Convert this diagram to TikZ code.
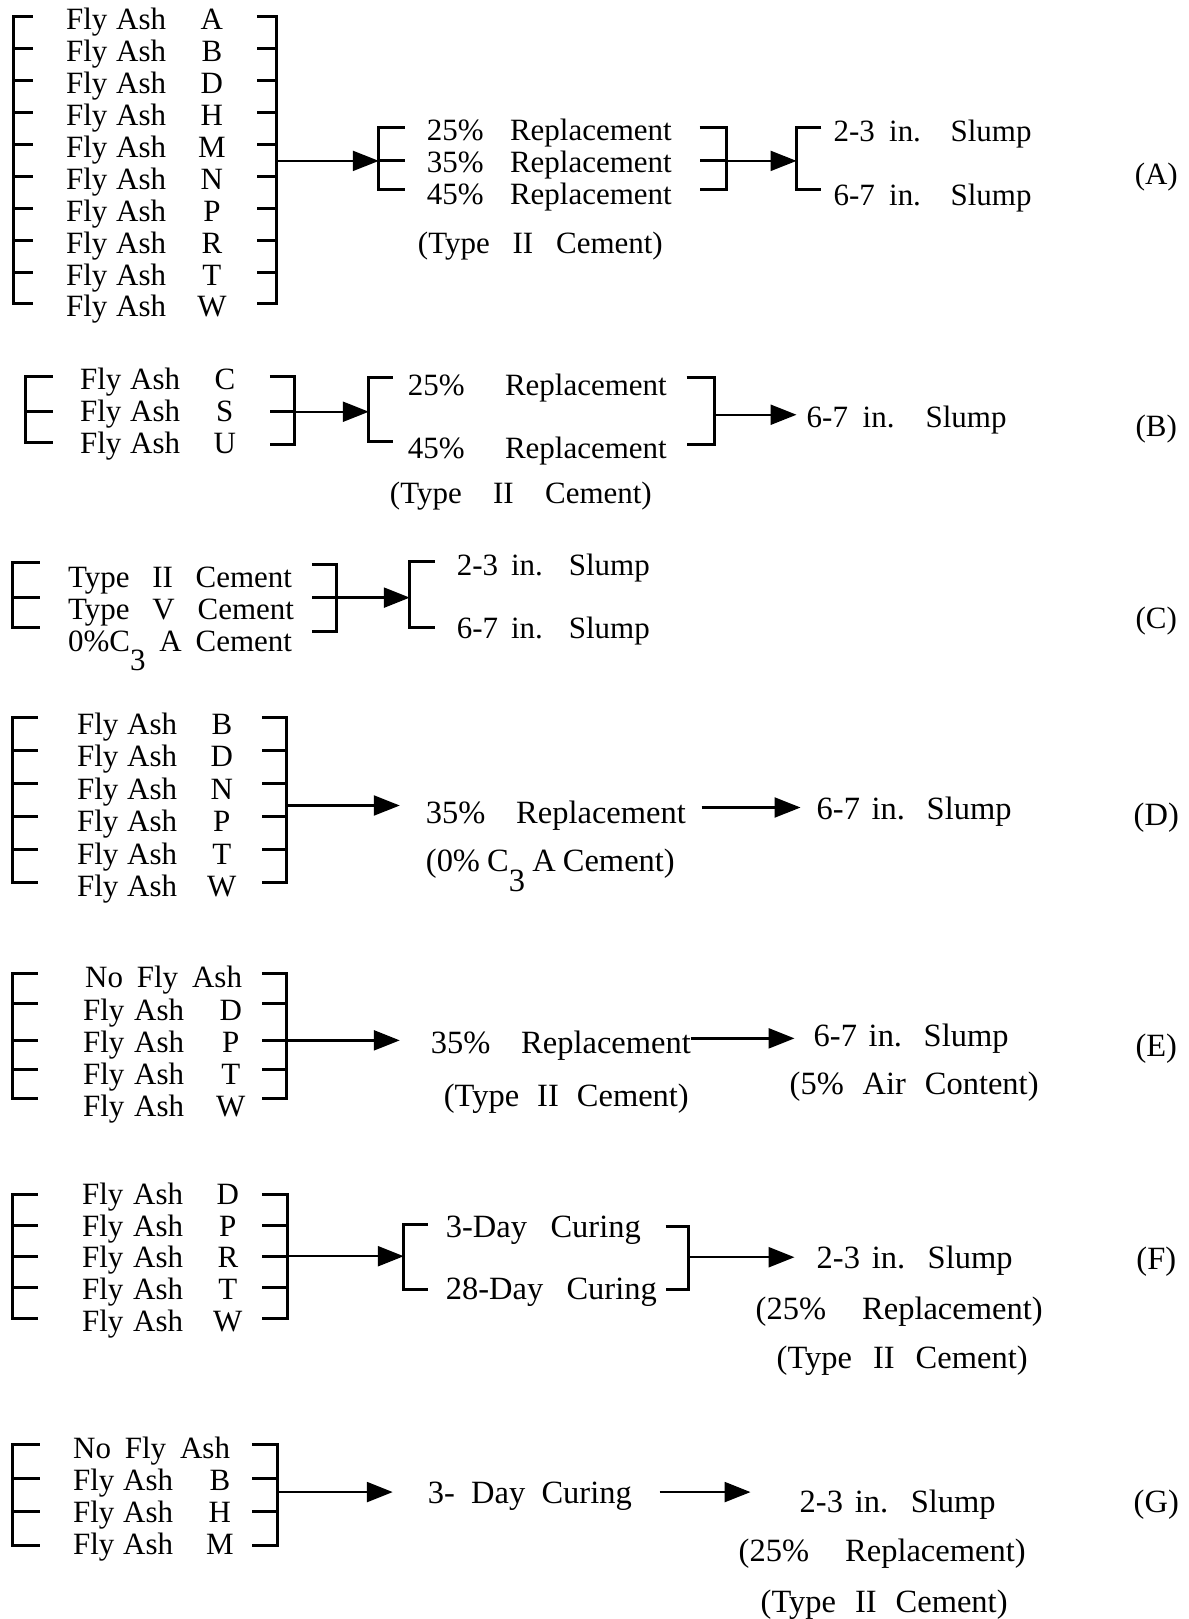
\documentclass[tikz,border=0pt]{standalone}
\usepackage{fontspec}
\setmainfont{Liberation Serif}
\usetikzlibrary{arrows.meta}

% text spread to a fixed width (interword glue stretched)
\newcommand\spreadtxt[2]{\makebox[#1pt][s]{#2}}
% lowered subscript digit of C3A
\newcommand\lowthree{\raisebox{-0.62em}{3}}
% bracket: spine x, tick end x, top y, bottom y, inner tick ys
\newcommand\bracketmulti[5]{%
  \draw[brk] (#2,#3) -- (#1,#3) -- (#1,#4) -- (#2,#4);
  \foreach \yy in {#5} {\draw[brk] (#1,\yy) -- (#2,\yy);}}
% bracket with two ticks only
\newcommand\bracketplain[4]{%
  \draw[brk] (#2,#3) -- (#1,#3) -- (#1,#4) -- (#2,#4);}

\begin{document}
\begin{tikzpicture}[x=1pt,y=-1pt,
  every node/.style={inner sep=0pt, font=\fontsize{31}{37}\selectfont},
  txt/.style={anchor=base west},
  big/.style={font=\fontsize{32.5}{38}\selectfont},
  lab/.style={anchor=base},
  brk/.style={line width=3pt, line join=miter},
  arr/.style={line width=2.4pt, -{Triangle[length=26pt,width=20pt]}}]
\fill[white] (0,0) rectangle (1189,1619);

% ---------------- (A) ----------------
\bracketmulti{14}{33}{17}{304}{48.9,80.8,112.7,144.6,176.5,208.4,240.3,272.2}
\bracketmulti{277}{257}{17}{304}{48.9,80.8,112.7,144.6,176.5,208.4,240.3,272.2}
\foreach \L [count=\i from 0] in {A,B,D,H,M,N,P,R,T,W} {
  \pgfmathsetmacro\yb{30+31.9*\i}
  \node[txt] (Aash\i) at (66,\yb) {\spreadtxt{100}{Fly Ash}};
  \node[lab] (Alet\i) at (212,\yb) {\L};
}
\coordinate (A1out) at (277,161);
\bracketmulti{379}{405}{128}{190}{161}
\coordinate (A2in) at (379,161);
\node[txt] (Arep1) at (427,141) {\spreadtxt{245}{25\% Replacement}};
\node[txt] (Arep2) at (427,173) {\spreadtxt{245}{35\% Replacement}};
\node[txt] (Arep3) at (427,205) {\spreadtxt{245}{45\% Replacement}};
\node[txt] (Acem) at (418,254) {\spreadtxt{245}{(Type II Cement)}};
\bracketmulti{727}{700}{128}{190}{161}
\coordinate (A2out) at (727,161);
\bracketplain{797}{822}{128}{190}
\coordinate (A3in) at (797,161);
\node[txt] (Aslump1) at (834,142) {\spreadtxt{198}{2-3 in. Slump}};
\node[txt] (Aslump2) at (834,206) {\spreadtxt{198}{6-7 in. Slump}};
\node[lab] (Atag) at (1157,185) {(A)};
\draw[arr] (A1out) -- (A2in);
\draw[arr] (A2out) -- (A3in);

% ---------------- (B) ----------------
\bracketmulti{26}{53}{377}{443}{412}
\foreach \L/\yb [count=\i] in {C/390,S/422,U/454} {
  \node[txt] (Bash\i) at (80,\yb) {\spreadtxt{100}{Fly Ash}};
  \node[lab] (Blet\i) at (225,\yb) {\L};
}
\bracketmulti{295}{270}{377}{445}{412}
\coordinate (B1out) at (295,412);
\bracketplain{369}{393}{378}{442}
\coordinate (B2in) at (369,412);
\node[txt] (Brep1) at (408,396) {\spreadtxt{259}{25\% Replacement}};
\node[txt] (Brep2) at (408,459) {\spreadtxt{259}{45\% Replacement}};
\node[txt] (Bcem) at (390,504) {\spreadtxt{262}{(Type II Cement)}};
\bracketplain{715}{687}{378}{445}
\coordinate (B2out) at (715,415);
\coordinate (B3in) at (797,415);
\node[txt] (Bslump) at (807,428) {\spreadtxt{200}{6-7 in. Slump}};
\node[lab] (Btag) at (1157,437) {(B)};
\draw[arr] (B1out) -- (B2in);
\draw[arr] (B2out) -- (B3in);

% ---------------- (C) ----------------
\bracketmulti{13}{40}{563}{628}{598}
\node[txt] (Ccem1) at (68,588) {\spreadtxt{224}{Type II Cement}};
\node[txt] (Ccem2) at (68,620) {\spreadtxt{226}{Type V Cement}};
\node[txt] (Ccem3) at (68,652) {\spreadtxt{224}{0\%C\lowthree{} A Cement}};
\bracketmulti{337}{312}{565}{632}{598}
\coordinate (C1out) at (337,598);
\bracketplain{410}{435}{562}{628}
\coordinate (C2in) at (410,598);
\node[txt] (Cslump1) at (457,576) {\spreadtxt{193}{2-3 in. Slump}};
\node[txt] (Cslump2) at (457,639) {\spreadtxt{193}{6-7 in. Slump}};
\node[lab] (Ctag) at (1157,629) {(C)};
\draw[arr] (C1out) -- (C2in);

% ---------------- (D) ----------------
\bracketmulti{13}{38}{718}{883}{751,784,817,850}
\bracketmulti{287}{262}{718}{883}{751,784,817,850}
\foreach \L/\yb [count=\i] in {B/735,D/767,N/800,P/832,T/865,W/897} {
  \node[txt] (Dash\i) at (77,\yb) {\spreadtxt{100}{Fly Ash}};
  \node[lab] (Dlet\i) at (222,\yb) {\L};
}
\coordinate (D1out) at (287,806);
\coordinate (D1end) at (400,806);
\node[txt,big] (Drep) at (426,824) {\spreadtxt{260}{35\% Replacement}};
\node[txt,big] (Dcem) at (426,872) {\spreadtxt{249}{(0\% C\lowthree{} A Cement)}};
\coordinate (D2out) at (702,808);
\coordinate (D2end) at (801,808);
\node[txt,big] (Dslump) at (817,820) {\spreadtxt{195}{6-7 in. Slump}};
\node[lab,big] (Dtag) at (1157,826) {(D)};
\draw[arr] (D1out) -- (D1end);
\draw[arr] (D2out) -- (D2end);

% ---------------- (E) ----------------
\bracketmulti{13}{38}{974}{1099}{1004,1041,1070}
\bracketmulti{287}{262}{974}{1099}{1004,1041,1070}
\node[txt] (Enone) at (85,988) {\spreadtxt{157}{No Fly Ash}};
\foreach \L/\yb [count=\i] in {D/1021,P/1053,T/1085,W/1117} {
  \node[txt] (Eash\i) at (83,\yb) {\spreadtxt{101}{Fly Ash}};
  \node[lab] (Elet\i) at (231,\yb) {\L};
}
\coordinate (E1out) at (287,1041);
\coordinate (E1end) at (400,1041);
\node[txt,big] (Erep) at (431,1054) {\spreadtxt{260}{35\% Replacement}};
\node[txt,big] (Ecem) at (444,1107) {\spreadtxt{245}{(Type II Cement)}};
\coordinate (E2out) at (691,1039);
\coordinate (E2end) at (795,1039);
\node[txt,big] (Eslump) at (814,1047) {\spreadtxt{195}{6-7 in. Slump}};
\node[txt,big] (Eair) at (790,1095) {\spreadtxt{249}{(5\% Air Content)}};
\node[lab,big] (Etag) at (1157,1057) {(E)};
\draw[arr] (E1out) -- (E1end);
\draw[arr] (E2out) -- (E2end);

% ---------------- (F) ----------------
\bracketmulti{13}{38}{1195}{1319}{1226,1257,1288}
\bracketmulti{288}{262}{1195}{1319}{1226,1257,1288}
\foreach \L/\yb [count=\i] in {D/1205,P/1237,R/1268,T/1300,W/1332} {
  \node[txt] (Fash\i) at (82,\yb) {\spreadtxt{101}{Fly Ash}};
  \node[lab] (Flet\i) at (228,\yb) {\L};
}
\coordinate (F1out) at (288,1257);
\bracketplain{404}{428}{1225}{1290}
\coordinate (F2in) at (404,1257);
\node[txt,big] (Fcure1) at (446,1238) {\spreadtxt{195}{3-Day Curing}};
\node[txt,big] (Fcure2) at (446,1300) {\spreadtxt{211}{28-Day Curing}};
\bracketplain{689}{666}{1227}{1290}
\coordinate (F2out) at (689,1258);
\coordinate (F3end) at (795,1258);
\node[txt,big] (Fslump) at (817,1269) {\spreadtxt{196}{2-3 in. Slump}};
\node[txt,big] (Frep) at (756,1320) {\spreadtxt{287}{(25\% Replacement)}};
\node[txt,big] (Fcem) at (777,1369) {\spreadtxt{251}{(Type II Cement)}};
\node[lab,big] (Ftag) at (1157,1270) {(F)};
\draw[arr] (F1out) -- (F2in);
\draw[arr] (F2out) -- (F3end);

% ---------------- (G) ----------------
\bracketmulti{13}{40}{1445}{1546}{1479,1512}
\bracketmulti{278}{252}{1445}{1546}{1479,1512}
\node[txt] (Gnone) at (73,1459) {\spreadtxt{157}{No Fly Ash}};
\foreach \L/\yb [count=\i] in {B/1491,H/1523,M/1555} {
  \node[txt] (Gash\i) at (73,\yb) {\spreadtxt{100}{Fly Ash}};
  \node[lab] (Glet\i) at (220,\yb) {\L};
}
\coordinate (G1out) at (278,1493);
\coordinate (G1end) at (393,1493);
\node[txt,big] (Gcure) at (428,1504) {\spreadtxt{204}{3- Day Curing}};
\coordinate (G2out) at (660,1493);
\coordinate (G2end) at (751,1493);
\node[txt,big] (Gslump) at (800,1513) {\spreadtxt{196}{2-3 in. Slump}};
\node[txt,big] (Grep) at (739,1562) {\spreadtxt{287}{(25\% Replacement)}};
\node[txt,big] (Gcem) at (761,1613) {\spreadtxt{247}{(Type II Cement)}};
\node[lab,big] (Gtag) at (1157,1513) {(G)};
\draw[arr] (G1out) -- (G1end);
\draw[arr] (G2out) -- (G2end);
\end{tikzpicture}
\end{document}
